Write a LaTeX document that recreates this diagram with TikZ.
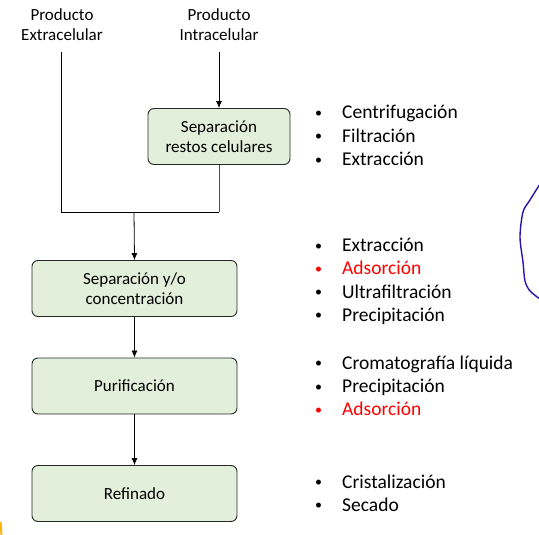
\documentclass[tikz,border=0pt]{standalone}
\usepackage{fontspec}
\setmainfont{Carlito}
\usetikzlibrary{arrows.meta}
\definecolor{boxfill}{RGB}{226,239,218}
\definecolor{boxline}{RGB}{40,40,40}
\definecolor{redtxt}{RGB}{255,0,0}
\definecolor{penblue}{RGB}{40,20,170}
\tikzset{
  stepbox/.style={draw=boxline, fill=boxfill, rounded corners=6pt, line width=0.9pt,
    font=\fontsize{17}{20.5}\selectfont, align=center, inner sep=0pt},
  toplabel/.style={font=\fontsize{17}{20}\selectfont, align=center, inner sep=0pt},
  item/.style={anchor=base west, inner sep=0pt, font=\fontsize{19.5}{23}\selectfont},
  conn/.style={draw=black, line width=0.8pt},
  arr/.style={conn, -{Latex[length=7pt,width=6pt]}}
}
\newcommand{\bul}[1]{\makebox[27pt][l]{\raisebox{1.5pt}{\fontsize{14}{14}\selectfont\textbullet}}#1}
\begin{document}
\begin{tikzpicture}[x=1pt,y=-1pt]
\useasboundingbox (0,0) rectangle (539,535);
% top labels
\node[toplabel] (ext) at (62,25) {Producto\\Extracelular};
\node[toplabel] (int) at (219,25) {Producto\\Intracelular};
% boxes
\node[stepbox, minimum width=142pt, minimum height=56pt] (b1) at (219,136.5) {Separación\\restos celulares};
\node[stepbox, minimum width=205pt, minimum height=56pt] (b2) at (134.5,288.5) {Separación y/o\\concentración};
\node[stepbox, minimum width=205pt, minimum height=56pt] (b3) at (134.5,386) {Purificación};
\node[stepbox, minimum width=205pt, minimum height=56pt] (b4) at (134.5,493.5) {Refinado};
% connectors
\coordinate (e0) at (61,52);
\coordinate (i0) at (219,52);
\coordinate (j) at (134,212);
\coordinate (jr) at (219,212);
\draw[conn] (e0) |- (jr);
\draw[conn, draw=black!70] (b1.south) -- (jr);
\draw[arr] (i0) -- (b1.north);
\draw[arr] (j) -- (b2.north);
\draw[arr] (b2.south) -- (b3.north);
\draw[arr] (b3.south) -- (b4.north);
% bullet lists
\node[item] (l1a) at (315,119) {\bul{Centrifugación}};
\node[item] (l1b) at (315,142.3) {\bul{Filtración}};
\node[item] (l1c) at (315,165.6) {\bul{Extracción}};
\node[item] (l2a) at (315,251.5) {\bul{Extracción}};
\node[item, text=redtxt] (l2b) at (315,274.8) {\bul{Adsorción}};
\node[item] (l2c) at (315,298.1) {\bul{Ultrafiltración}};
\node[item] (l2d) at (315,321.4) {\bul{Precipitación}};
\node[item] (l3a) at (315,369.3) {\bul{Cromatografía líquida}};
\node[item] (l3b) at (315,392.6) {\bul{Precipitación}};
\node[item, text=redtxt] (l3c) at (315,415.9) {\bul{Adsorción}};
\node[item] (l4a) at (315,488) {\bul{Cristalización}};
\node[item] (l4b) at (315,511.3) {\bul{Secado}};
% hand-drawn curve
\draw[penblue, line width=1.4pt, line join=round] plot[smooth, tension=0.5] coordinates {(540,184) (530,200) (523,212) (520,237) (523,262) (525,281) (530,291) (540,299)};
% small yellow mark
\draw[orange!60!yellow, line width=2pt] (0.5,522) -- (1.5,535);
\end{tikzpicture}
\end{document}
